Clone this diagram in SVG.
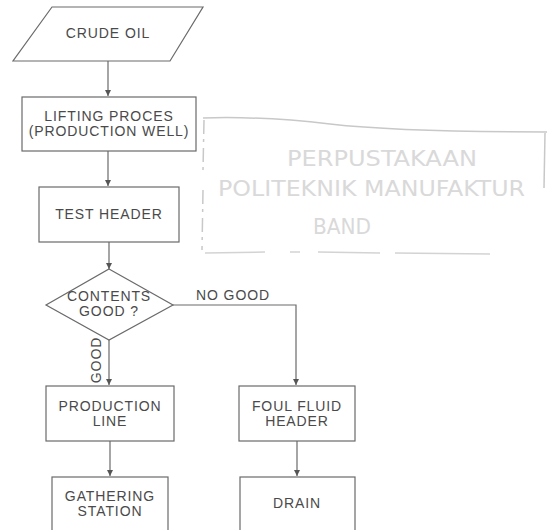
<svg xmlns="http://www.w3.org/2000/svg" width="550" height="530" viewBox="0 0 550 530">
  <style>
    .shape { fill: #ffffff; stroke: #6a6a6a; stroke-width: 1.2; }
    .label { font-family: "Liberation Sans", Arial, sans-serif; font-size: 14px; letter-spacing: 0.9px; fill: #4a4a4a; text-anchor: middle; }
    .edge { fill: none; stroke: #6a6a6a; stroke-width: 1.2; }
    .stamp-line { fill: none; stroke: #c8c8c8; stroke-width: 1.5; }
    .stamp-text { font-family: "DejaVu Sans Condensed", "DejaVu Sans", sans-serif; font-size: 22px; fill: #d9d9d9; }
  </style>
  <defs>
    <marker id="arrow" viewBox="0 0 10 10" refX="10" refY="5" markerWidth="6" markerHeight="7" markerUnits="userSpaceOnUse" orient="auto">
      <path d="M0,0 L10,5 L0,10 Z" fill="#555555"/>
    </marker>
  </defs>

  <rect width="550" height="530" fill="#ffffff"/>

  <!-- faded library stamp -->
  <g id="stamp">
    <path class="stamp-line" d="M203,118 Q260,116 330,124 T547,132"/>
    <path class="stamp-line" d="M204,120 L203,170 M203,190 L202,250" stroke-dasharray="14 5 3 6"/>
    <path class="stamp-line" d="M545,133 L544,188"/>
    <path class="stamp-line" d="M205,253 L265,252 M290,252 L300,252 M318,252 L380,253 M395,253 L490,254" opacity="0.8"/>
    <text class="stamp-text" x="287" y="166" textLength="190" lengthAdjust="spacingAndGlyphs">PERPUSTAKAAN</text>
    <text class="stamp-text" x="218" y="196" textLength="307" lengthAdjust="spacingAndGlyphs">POLITEKNIK MANUFAKTUR</text>
    <text class="stamp-text" x="313" y="234" textLength="58" lengthAdjust="spacingAndGlyphs">BAND</text>
  </g>

  <!-- connectors -->
  <g id="connectors">
    <line class="edge" x1="108" y1="61" x2="108" y2="96" marker-end="url(#arrow)"/>
    <line class="edge" x1="108" y1="151" x2="108" y2="186" marker-end="url(#arrow)"/>
    <line class="edge" x1="109" y1="242" x2="109" y2="269" marker-end="url(#arrow)"/>
    <line class="edge" x1="109" y1="340" x2="109" y2="385" marker-end="url(#arrow)"/>
    <polyline class="edge" points="173,305 296,305 296,385" marker-end="url(#arrow)"/>
    <line class="edge" x1="110" y1="441" x2="110" y2="476" marker-end="url(#arrow)"/>
    <line class="edge" x1="297" y1="441" x2="297" y2="476" marker-end="url(#arrow)"/>
    <text class="label" x="233" y="300">NO GOOD</text>
    <text class="label" transform="translate(101,360) rotate(-90)">GOOD</text>
  </g>

  <g id="crude-oil">
    <polygon class="shape" points="52,7 203,7 170,61 13,61"/>
    <text class="label" x="108" y="38">CRUDE OIL</text>
  </g>

  <g id="lifting-process">
    <rect class="shape" x="22" y="97" width="174" height="54"/>
    <text class="label" x="109" y="121">LIFTING PROCES</text>
    <text class="label" x="109" y="136">(PRODUCTION WELL)</text>
  </g>

  <g id="test-header">
    <rect class="shape" x="39" y="187" width="140" height="55"/>
    <text class="label" x="109" y="219">TEST HEADER</text>
  </g>

  <g id="contents-good">
    <polygon class="shape" points="109,269 173,305 109,340 46,305"/>
    <text class="label" x="109" y="301">CONTENTS</text>
    <text class="label" x="109" y="316">GOOD ?</text>
  </g>

  <g id="production-line">
    <rect class="shape" x="46" y="386" width="128" height="55"/>
    <text class="label" x="110" y="411">PRODUCTION</text>
    <text class="label" x="110" y="426">LINE</text>
  </g>

  <g id="foul-fluid-header">
    <rect class="shape" x="239" y="386" width="116" height="55"/>
    <text class="label" x="297" y="411">FOUL FLUID</text>
    <text class="label" x="297" y="426">HEADER</text>
  </g>

  <g id="gathering-station">
    <rect class="shape" x="52" y="477" width="116" height="70"/>
    <text class="label" x="110" y="501">GATHERING</text>
    <text class="label" x="110" y="516">STATION</text>
  </g>

  <g id="drain">
    <rect class="shape" x="240" y="477" width="115" height="70"/>
    <text class="label" x="297" y="508">DRAIN</text>
  </g>
</svg>
